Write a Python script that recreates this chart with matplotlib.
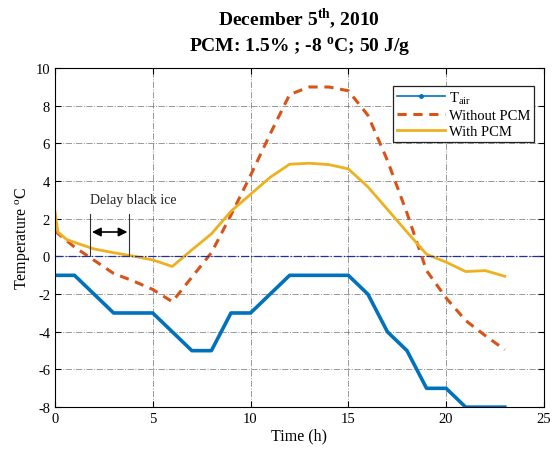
import matplotlib.pyplot as plt
from matplotlib.lines import Line2D

plt.rcParams['font.family'] = ['Liberation Serif', 'DejaVu Serif']
plt.rcParams['mathtext.fontset'] = 'custom'
plt.rcParams['mathtext.rm'] = 'Liberation Serif'
plt.rcParams['mathtext.bf'] = 'Liberation Serif:bold'
plt.rcParams['axes.unicode_minus'] = False

# hourly air temperature
hours = list(range(24))
t_air = [-1, -1, -2, -3, -3, -3, -4, -5, -5, -3, -3, -2,
         -1, -1, -1, -1, -2, -4, -5, -7, -7, -8, -8, -8]

# pavement surface without PCM
t_nopcm = [1.35, 0.5, -0.2, -0.9, -1.3, -1.75, -2.4, -1.1, 0.2, 2.2, 4.3, 6.5,
           8.6, 9.0, 9.0, 8.8, 7.5, 5.1, 2.3, -0.75, -2.2, -3.4, -4.2, -4.95]

# pavement surface with PCM (finer at the start)
time_pcm = [0, 0.15, 0.6, 1, 2, 3, 4, 5, 6, 7, 8, 9, 10, 11,
            12, 13, 14, 15, 16, 17, 18, 19, 20, 21, 22, 23]
t_pcm = [2.4, 1.3, 0.9, 0.75, 0.4, 0.2, 0.02, -0.18, -0.53, 0.35, 1.2, 2.4, 3.3, 4.2,
         4.9, 4.95, 4.88, 4.65, 3.7, 2.5, 1.3, 0.12, -0.3, -0.8, -0.75, -1.05]

delay_start = 1.8
delay_end = 3.8

fig = plt.figure(figsize=(5.55, 4.52), dpi=100)
ax = fig.add_axes([0.099, 0.097, 0.881, 0.750])

ax.plot(hours, t_air, color='#0072BD', lw=2.6, label=r'T$_{\mathrm{air}}$')
ax.plot(hours, t_nopcm, color='#D95319', lw=2.2, ls=(0, (3, 2.2)), label='Without PCM')
ax.plot(time_pcm, t_pcm, color='#EDB120', lw=2.0, label='With PCM')

ax.axhline(0, color='#1f2fa0', lw=0.9, ls='-.')

# delay annotation
ax.plot([delay_start, delay_start], [0, 2.25], color='#333333', lw=0.8)
ax.plot([delay_end, delay_end], [0, 2.25], color='#333333', lw=0.8)
ax.annotate('', xy=(delay_start - 0.05, 1.3), xytext=(delay_end + 0.05, 1.3),
            arrowprops=dict(arrowstyle='<|-|>', color='black', lw=1.2, mutation_scale=13))
ax.text(4.0, 3.05, 'Delay black ice', ha='center', va='center', fontsize=10, color='#222222')

ax.set_xlim(0, 25)
ax.set_ylim(-8, 10)
ax.set_xticks(range(0, 26, 5))
ax.set_yticks(range(-8, 11, 2))
ax.grid(True, color='#555555', ls='-.', lw=0.7, alpha=0.6)
ax.tick_params(direction='in', top=True, right=True, labelsize=10.5, length=4)

ax.set_xlabel('Time (h)', fontsize=11.5, labelpad=2)
ax.set_ylabel(r'Temperature $^{\mathrm{o}}$C', fontsize=11.5, labelpad=2)
ax.set_title('December 5$^{\\mathbf{th}}$, 2010\nPCM: 1.5% ; -8 $^{\\mathbf{o}}$C; 50 J/g',
             fontsize=14, fontweight='bold', pad=12)

# marker on the legend entry only
handles, labels = ax.get_legend_handles_labels()
handles[0] = Line2D([], [], color='#0072BD', lw=1.2, marker='.', markersize=5)
leg = ax.legend(handles, labels, loc='upper right', bbox_to_anchor=(0.995, 0.97),
                fontsize=10.5, frameon=True, fancybox=False, edgecolor='#222222',
                framealpha=1, borderpad=0.25, labelspacing=0.2, handlelength=3.3,
                handletextpad=0.3)
leg.get_frame().set_linewidth(0.9)

fig.savefig('out.png', dpi=100)
